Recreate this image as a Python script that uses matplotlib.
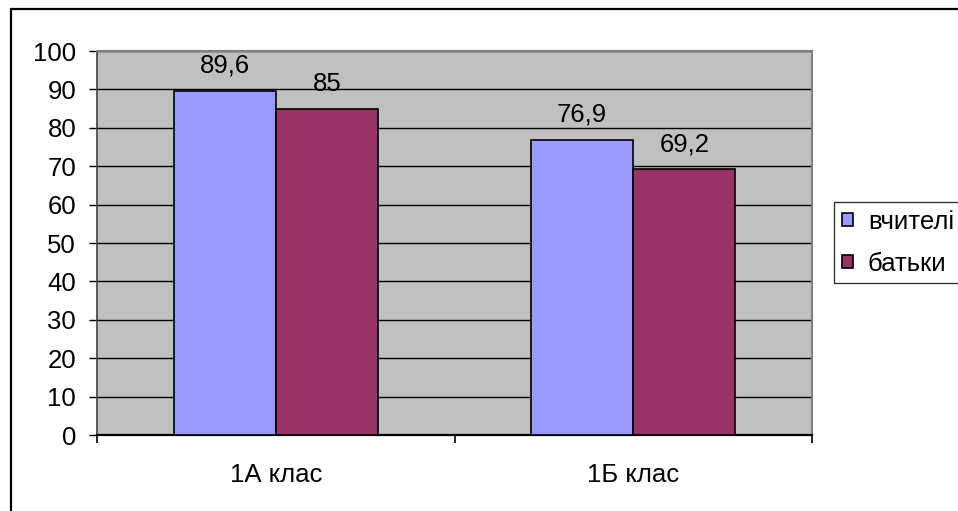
import matplotlib
matplotlib.use("Agg")
import matplotlib.pyplot as plt
import numpy as np
from matplotlib.patches import Rectangle

plt.rcParams['font.family'] = ['Liberation Sans', 'DejaVu Sans']

categories = ["1А клас", "1Б клас"]
series_names = ["вчителі", "батьки"]
teachers = [89.6, 76.9]
parents = [85, 69.2]
value_labels_teachers = ["89,6", "76,9"]
value_labels_parents = ["85", "69,2"]
y_ticks = [0, 10, 20, 30, 40, 50, 60, 70, 80, 90, 100]

colors = ["#9999FF", "#993366"]
FS = 18.5

fig = plt.figure(figsize=(9.58, 5.11), dpi=100)
ax = fig.add_axes([97/958, 1 - 435/511, (812-97)/958, (435-51)/511])
ax.set_facecolor("#C0C0C0")

# outer chart frame
fig.patches.append(Rectangle((11/958, -0.05), 1.0, (511-9)/511 + 0.05,
                             transform=fig.transFigure, fill=False,
                             edgecolor="black", linewidth=1.6))

x = np.arange(len(categories))
bw = 1 / 3.5
b1 = ax.bar(x - bw/2, teachers, bw, color=colors[0], edgecolor="black",
            linewidth=1.2, label=series_names[0], zorder=3)
b2 = ax.bar(x + bw/2, parents, bw, color=colors[1], edgecolor="black",
            linewidth=1.2, label=series_names[1], zorder=3)

for bars, texts in ((b1, value_labels_teachers), (b2, value_labels_parents)):
    for rect, txt in zip(bars, texts):
        ax.annotate(txt, (rect.get_x() + rect.get_width()/2, rect.get_height()),
                    xytext=(0, 13), textcoords="offset points", ha="center",
                    va="baseline", fontsize=FS)

ax.set_xlim(-0.5, len(categories) - 0.5)
ax.set_ylim(0, 100)
ax.set_yticks(y_ticks)
ax.set_yticklabels([str(v) for v in y_ticks], fontsize=FS)
ax.yaxis.grid(True, color="black", linewidth=1.0, zorder=1)
ax.set_axisbelow(True)

# category boundaries as ticks, names centred between them
ax.set_xticks(np.arange(len(categories) + 1) - 0.5)
ax.set_xticklabels([])
ax.set_xticks(x, minor=True)
ax.set_xticklabels(categories, minor=True, fontsize=FS)
ax.tick_params(axis="x", which="major", length=6, width=1.2, direction="out")
ax.tick_params(axis="x", which="minor", length=0, pad=20)
ax.tick_params(axis="y", length=6, width=1.0, direction="out", pad=9)

ax.spines["bottom"].set_color("black")
ax.spines["bottom"].set_linewidth(1.6)
ax.spines["left"].set_color("#404040")
ax.spines["left"].set_linewidth(1.2)
ax.spines["top"].set_color("#808080")
ax.spines["top"].set_linewidth(1.5)
ax.spines["right"].set_color("#808080")
ax.spines["right"].set_linewidth(1.5)

leg = fig.legend(handles=[b1, b2], labels=series_names,
                 loc="upper left", bbox_to_anchor=(834/958, 1 - 202/511),
                 fontsize=FS, frameon=True, fancybox=False, edgecolor="black",
                 handlelength=0.42, handleheight=0.42, handletextpad=0.6,
                 borderpad=0.3, labelspacing=0.7, borderaxespad=0)
leg.get_frame().set_linewidth(1.0)

fig.savefig("out.png", dpi=100)
